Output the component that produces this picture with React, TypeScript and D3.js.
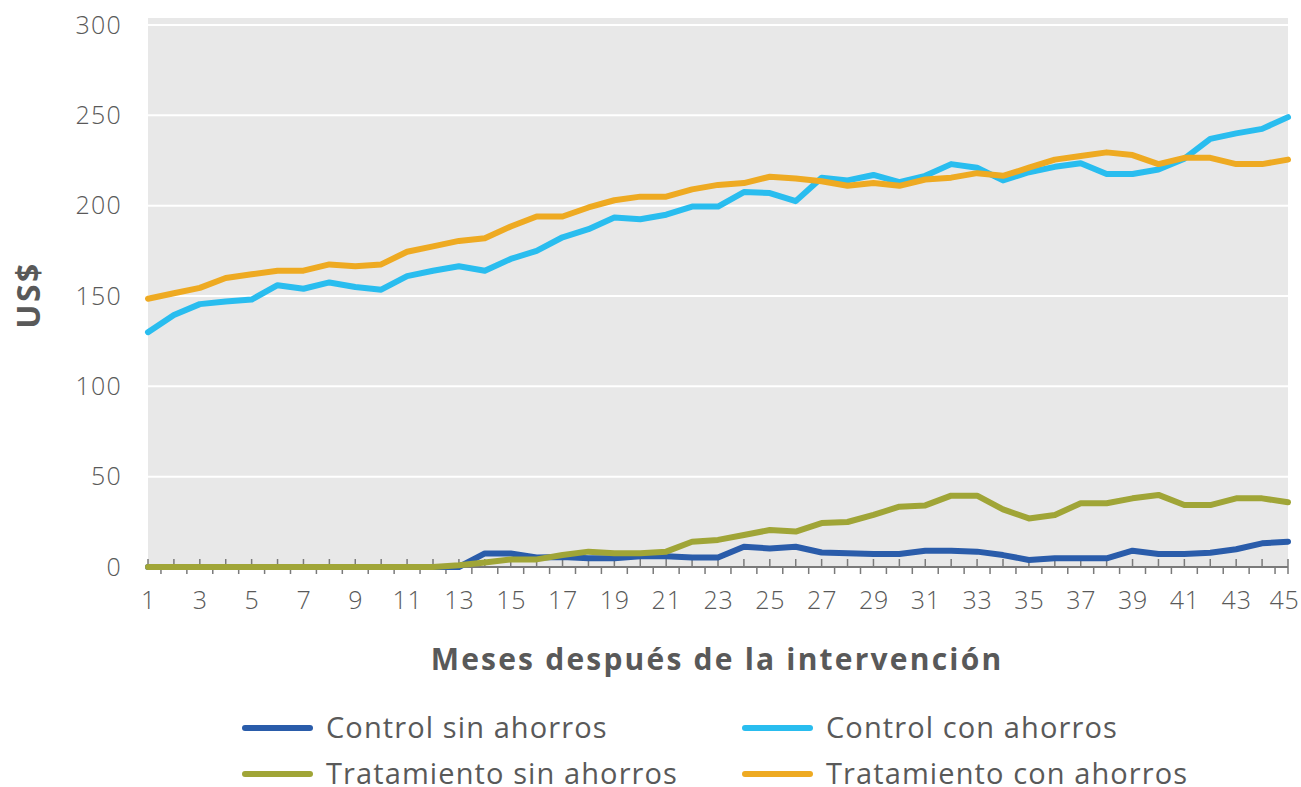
import React, { useEffect, useRef } from "react";
import * as d3 from "d3";

// months after the intervention
const months = d3.range(1, 46);

// series values (US$), one per month
const controlSin = [
  0, 0, 0, 0, 0, 0, 0, 0, 0, 0, 0, 0, 0, 7.5, 7.5, 5.3, 5.5, 4.8, 4.8, 6, 6, 5.2, 5.2,
  11.2, 10.3, 11.2, 8, 7.6, 7.2, 7.2, 9, 9, 8.5, 6.6, 3.9, 4.8, 4.8, 4.8, 9, 7.2, 7.2,
  7.9, 9.8, 13.1, 14,
];
const controlCon = [
  130, 139.5, 145.5, 147, 148, 156, 154, 157.5, 155, 153.5, 161, 164, 166.5, 164, 170.5,
  175, 182.5, 187, 193.5, 192.5, 195, 199.5, 199.5, 207.5, 207, 202.5, 215.5, 214, 217,
  213, 216.5, 223, 221, 214, 218.5, 221.5, 223.5, 217.5, 217.5, 220, 226, 237, 240,
  242.5, 249,
];
const tratSin = [
  0, 0, 0, 0, 0, 0, 0, 0, 0, 0, 0, 0, 1, 2.5, 4.2, 4.2, 6.6, 8.5, 7.6, 7.6, 8.5, 14, 15,
  17.7, 20.5, 19.6, 24.3, 24.9, 28.8, 33.4, 34.1, 39.5, 39.5, 31.9, 26.9, 28.8, 35.3,
  35.3, 38, 39.9, 34.3, 34.3, 38, 38, 35.8,
];
const tratCon = [
  148.5, 151.5, 154.5, 160, 162, 164, 164, 167.5, 166.5, 167.5, 174.5, 177.5, 180.5, 182,
  188.5, 194, 194, 199, 203, 205, 205, 209, 211.5, 212.5, 216, 215, 213.5, 211, 212.5,
  211, 214.5, 215.5, 218, 216.5, 221, 225.5, 227.5, 229.5, 228, 223, 226.5, 226.5, 223,
  223, 225.5,
];

const seriesNames = [
  "Control sin ahorros",
  "Control con ahorros",
  "Tratamiento sin ahorros",
  "Tratamiento con ahorros",
];
const seriesColors = ["#2A5CAA", "#29BDEF", "#A0A537", "#EEAA22"];
const seriesValues = [controlSin, controlCon, tratSin, tratCon];

const yTicks = [0, 50, 100, 150, 200, 250, 300];
const xLabels = months.filter((m) => m % 2 === 1);

const App: React.FC = () => {
  const svgRef = useRef<SVGSVGElement>(null);

  useEffect(() => {
    const svg = d3.select(svgRef.current);
    svg.selectAll("*").remove();

    const font = "'Open Sans', 'Noto Sans', sans-serif";
    const textColor = "#595959";
    const left = 148;
    const right = 1288;
    const top = 18;
    const bottom = 567;

    const x = d3.scaleLinear().domain([1, 45]).range([left, right]);
    const y = d3.scaleLinear().domain([0, 300]).range([bottom, 25]);

    // plot background
    svg
      .append("rect")
      .attr("x", left)
      .attr("y", top)
      .attr("width", right - left)
      .attr("height", bottom - top)
      .attr("fill", "#E8E8E8");

    // gridlines
    svg
      .append("g")
      .selectAll("line")
      .data(yTicks.filter((t) => t > 0))
      .enter()
      .append("line")
      .attr("x1", left)
      .attr("x2", right)
      .attr("y1", (d) => y(d))
      .attr("y2", (d) => y(d))
      .attr("stroke", "#ffffff")
      .attr("stroke-width", 2);

    // y axis labels
    const yAxis = svg
      .append("g")
      .attr("transform", `translate(${left},0)`)
      .call(d3.axisLeft(y).tickValues(yTicks).tickSize(0).tickPadding(26));
    yAxis.select(".domain").remove();
    yAxis
      .selectAll("text")
      .attr("font-family", font)
      .attr("font-size", 25)
      .attr("font-weight", 300)
      .attr("letter-spacing", 1.2)
      .attr("fill", textColor);

    // x axis line + ticks
    const axisG = svg.append("g");
    axisG
      .append("line")
      .attr("x1", left)
      .attr("x2", right)
      .attr("y1", bottom)
      .attr("y2", bottom)
      .attr("stroke", "#7a7a7a")
      .attr("stroke-width", 2);
    axisG
      .selectAll(".tick-up")
      .data(months)
      .enter()
      .append("line")
      .attr("x1", (d) => x(d))
      .attr("x2", (d) => x(d))
      .attr("y1", bottom)
      .attr("y2", bottom - 8)
      .attr("stroke", "#7a7a7a")
      .attr("stroke-width", 1.5);
    axisG
      .selectAll(".tick-down")
      .data(months.slice(0, -1).map((m) => m + 0.5).concat([45]))
      .enter()
      .append("line")
      .attr("x1", (d) => x(d))
      .attr("x2", (d) => x(d))
      .attr("y1", bottom)
      .attr("y2", bottom + 7)
      .attr("stroke", "#7a7a7a")
      .attr("stroke-width", 1.5);

    const xAxis = svg
      .append("g")
      .attr("transform", `translate(0,${bottom})`)
      .call(d3.axisBottom(x).tickValues(xLabels).tickFormat(d3.format("d")).tickSize(0).tickPadding(24));
    xAxis.select(".domain").remove();
    xAxis
      .selectAll("text")
      .attr("font-family", font)
      .attr("font-size", 25)
      .attr("font-weight", 300)
      .attr("letter-spacing", 0.8)
      .attr("dx", (d: any) => (d === 45 ? -4 : 0))
      .attr("fill", textColor);

    // lines
    const line = d3
      .line<number>()
      .x((_, i) => x(months[i]))
      .y((d) => y(d));

    seriesValues.forEach((vals, i) => {
      svg
        .append("path")
        .datum(vals)
        .attr("d", line)
        .attr("fill", "none")
        .attr("stroke", seriesColors[i])
        .attr("stroke-width", 6)
        .attr("stroke-linejoin", "round")
        .attr("stroke-linecap", "round");
    });

    // axis titles
    svg
      .append("text")
      .attr("x", 717)
      .attr("y", 670)
      .attr("text-anchor", "middle")
      .attr("font-family", font)
      .attr("font-size", 30)
      .attr("font-weight", "bold")
      .attr("letter-spacing", 2.2)
      .attr("fill", textColor)
      .text("Meses después de la intervención");

    svg
      .append("text")
      .attr("transform", `translate(40,295) rotate(-90)`)
      .attr("text-anchor", "middle")
      .attr("font-family", font)
      .attr("font-size", 32)
      .attr("font-weight", "bold")
      .attr("letter-spacing", 2.5)
      .attr("fill", textColor)
      .text("US$");

    // legend
    const legend = svg
      .append("g")
      .selectAll("g")
      .data(seriesNames)
      .enter()
      .append("g")
      .attr("transform", (_, i) => `translate(${i % 2 === 0 ? 245 : 745},${i < 2 ? 728 : 774})`);
    legend
      .append("line")
      .attr("x1", 0)
      .attr("x2", 65)
      .attr("stroke", (_, i) => seriesColors[i])
      .attr("stroke-width", 6)
      .attr("stroke-linecap", "round");
    legend
      .append("text")
      .attr("x", 81)
      .attr("dy", "0.35em")
      .attr("font-family", font)
      .attr("font-size", 29)
      .attr("letter-spacing", 1.1)
      .attr("fill", textColor)
      .text((d) => d);
  }, []);

  return (
    <div style={{ position: "absolute", top: 0, left: 0 }}>
      <svg ref={svgRef} width={1301} height={787} style={{ display: "block" }}></svg>
    </div>
  );
};

export default App;
